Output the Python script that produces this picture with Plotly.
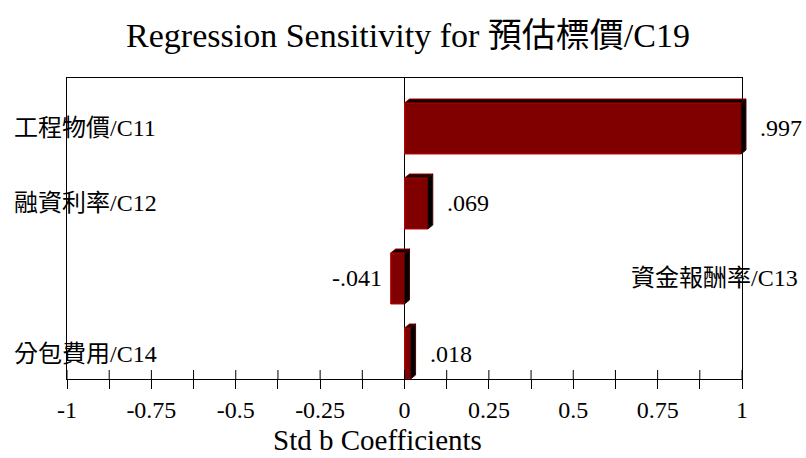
import numpy as np
import plotly.graph_objects as go

# Standardised regression coefficients for the forecast 預估標價/C19
categories = ["工程物價/C11", "融資利率/C12", "資金報酬率/C13", "分包費用/C14"]
coefficients = [0.997, 0.069, -0.041, 0.018]
tick_values = [-1, -0.75, -0.5, -0.25, 0, 0.25, 0.5, 0.75, 1]
tick_labels = ["-1", "-0.75", "-0.5", "-0.25", "0", "0.25", "0.5", "0.75", "1"]

FONT = "Liberation Serif, Noto Sans CJK TC, serif"
n = len(categories)
rows = np.arange(n)[::-1]          # first category drawn at the top
bar_w = 0.68
dx, dy = 0.0148, 0.053             # extrusion depth of the 3-D bars
x_range = [tick_values[0], tick_values[-1]]
y_range = [-0.34, 3.673]
plot_w, plot_h = 675, 301
px_per_row = plot_h / (y_range[1] - y_range[0])


def to_paper(x, y):
    """Data coordinates -> paper fractions, so the extrusion may poke past the frame."""
    return ((x - x_range[0]) / (x_range[1] - x_range[0]),
            (y - y_range[0]) / (y_range[1] - y_range[0]))


def path(points):
    pts = [to_paper(x, y) for x, y in points]
    return "M " + " L ".join(f"{px:.5f},{py:.5f}" for px, py in pts) + " Z"


fig = go.Figure()

# front faces
fig.add_trace(go.Bar(
    x=coefficients, y=rows, orientation="h", width=bar_w,
    marker=dict(color="#800000", line=dict(color="#c00000", width=1)),
    hoverinfo="skip", showlegend=False,
))

# top and side faces of the extrusion
shapes = []
for v, r in zip(coefficients, rows):
    x0, x1 = min(0, v), max(0, v)
    yt, yb = r + bar_w / 2, r - bar_w / 2
    top = [(x0, yt), (x1, yt), (x1 + dx, yt + dy), (x0 + dx, yt + dy)]
    side = [(x1, yb), (x1, yt), (x1 + dx, yt + dy), (x1 + dx, yb + dy)]
    shapes.append(dict(type="path", xref="paper", yref="paper", path=path(top),
                       fillcolor="#120000", line=dict(color="#a00000", width=1), layer="above"))
    shapes.append(dict(type="path", xref="paper", yref="paper", path=path(side),
                       fillcolor="black", line=dict(color="#500000", width=1), layer="above"))

# upper half of the crossing tick marks (major and minor)
all_ticks = np.linspace(tick_values[0], tick_values[-1], 2 * len(tick_values) - 1)
up_len = 9 / px_per_row
tx, ty = [], []
for t in all_ticks:
    tx += [float(t), float(t), None]
    ty += [y_range[0], y_range[0] + up_len, None]
fig.add_trace(go.Scatter(x=tx, y=ty, mode="lines", line=dict(color="black", width=1),
                         hoverinfo="skip", showlegend=False))

annotations = []
for name, v, r in zip(categories, coefficients, rows):
    # category label: left margin for positive, right margin for negative
    if v >= 0:
        annotations.append(dict(text=name, xref="paper", yref="y", x=-55 / plot_w, y=r,
                                xanchor="left", yanchor="middle", showarrow=False,
                                font=dict(family=FONT, size=24, color="black")))
    else:
        annotations.append(dict(text=name, xref="paper", yref="y", x=1 + 58 / plot_w, y=r,
                                xanchor="right", yanchor="middle", showarrow=False,
                                font=dict(family=FONT, size=24, color="black")))
    label = f"{v:.3f}".replace("0.", ".", 1)
    annotations.append(dict(text=label, xref="x", yref="y", x=v, y=r,
                            xanchor="left" if v >= 0 else "right",
                            xshift=17 if v >= 0 else -7,
                            yanchor="middle", showarrow=False,
                            font=dict(family=FONT, size=24, color="black")))

annotations.append(dict(text="Std b Coefficients", xref="paper", yref="paper",
                        x=(377 - 67) / plot_w, y=(379 - 440) / plot_h,
                        xanchor="center", yanchor="middle", showarrow=False,
                        font=dict(family=FONT, size=29, color="black")))

fig.update_layout(
    width=806, height=458,
    margin=dict(l=67, r=64, t=78, b=79),
    paper_bgcolor="white", plot_bgcolor="white",
    barmode="overlay",
    title=dict(text="Regression Sensitivity for 預估標價/C19",
               x=408 / 806, xref="container", xanchor="center",
               y=1 - 35 / 458, yanchor="middle",
               font=dict(family=FONT, size=34, color="black")),
    xaxis=dict(range=x_range, tickvals=tick_values, ticktext=tick_labels,
               ticks="outside", ticklen=9, tickcolor="black", tickwidth=1,
               minor=dict(dtick=0.125, tick0=0, ticks="outside", ticklen=9,
                          tickcolor="black", tickwidth=1),
               showgrid=False, showline=True, linecolor="black", linewidth=1, mirror=True,
               zeroline=True, zerolinecolor="black", zerolinewidth=1,
               tickfont=dict(family=FONT, size=24, color="black")),
    yaxis=dict(range=y_range, showticklabels=False, ticks="", showgrid=False,
               zeroline=False, showline=True, linecolor="black", linewidth=1, mirror=True),
    shapes=shapes,
    annotations=annotations,
)

fig.write_html("out.html")
